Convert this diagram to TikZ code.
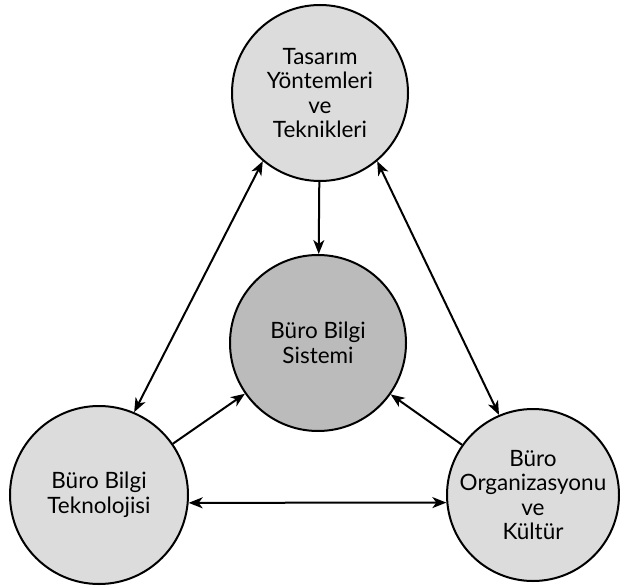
\documentclass[tikz,border=0pt]{standalone}
\usepackage{fontspec}
\setmainfont{Lato}
\usepackage{xcolor}
\usepackage{tikz}
\usetikzlibrary{arrows.meta}
\definecolor{CircleLight}{HTML}{DCDCDC}
\definecolor{CircleDark}{HTML}{BBBBBB}
\definecolor{LineDark}{HTML}{000000}

\begin{document}
\begin{tikzpicture}[
        x=1pt, y=1pt,
        bubble/.style={
            circle,
            draw=LineDark,
            line width=2pt,
            fill=CircleLight,
            align=center,
            inner sep=0pt,
            font=\fontsize{22.5}{24.5}\selectfont
        },
        link/.style={draw=LineDark, line width=2pt, -{Stealth[length=14pt,width=11pt,inset=4pt]}},
        dlink/.style={link, {Stealth[length=14pt,width=11pt,inset=4pt]}-{Stealth[length=14pt,width=11pt,inset=4pt]}}
    ]
        \useasboundingbox (0,0) rectangle (620,587);

        \node[bubble, minimum size=176pt] (tasarim) at (320,494) {Tasar\i m\\Yöntemleri\\ve\\Teknikleri};
        \node[bubble, minimum size=176pt, fill=CircleDark] (sistem) at (318,244) {Büro Bilgi\\Sistemi};
        \node[bubble, minimum size=178pt] (teknoloji) at (99,92) {Büro Bilgi\\Teknolojisi};
        \node[bubble, minimum size=172pt] (kultur) at (533,92) {Büro\\Organizasyonu\\ve\\Kültür};

        \draw[link] (tasarim) -- (sistem);
        \draw[link] (teknoloji) -- (sistem);
        \draw[link] (kultur) -- (sistem);
        \draw[dlink] (tasarim.230) -- (teknoloji.67);
        \draw[dlink] (tasarim.310) -- (kultur.113);
        \draw[dlink] (teknoloji.-5) -- (kultur.185);
    \end{tikzpicture}
\end{document}
